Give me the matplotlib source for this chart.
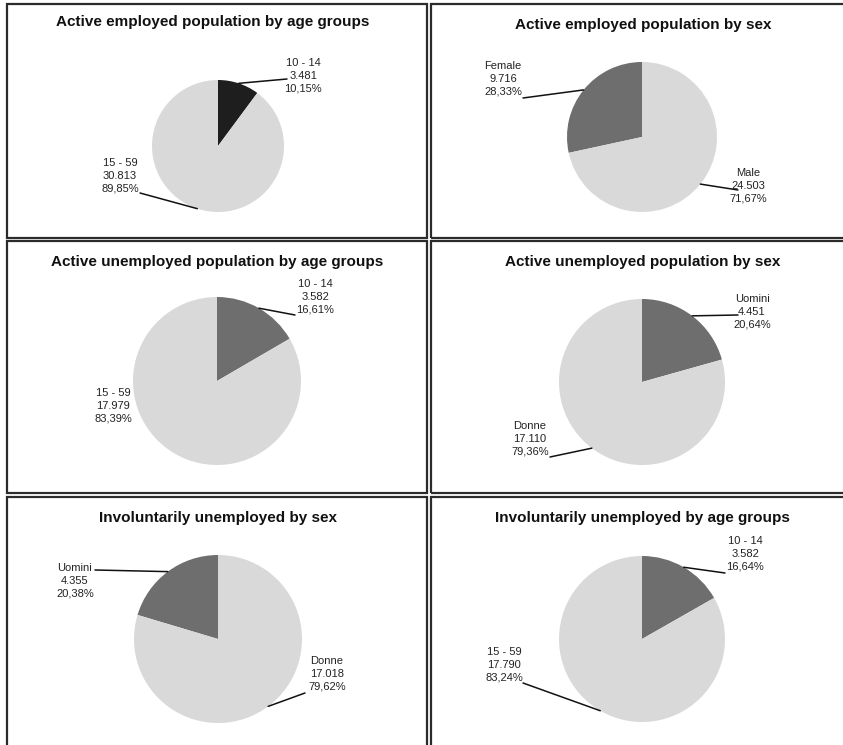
import matplotlib
matplotlib.use("Agg")
import matplotlib.pyplot as plt
from matplotlib.patches import Rectangle
import numpy as np

W, H = 843, 745

# ---------------- data ----------------
titles = [
    "Active employed population by age groups",
    "Active employed population by sex",
    "Active unemployed population by age groups",
    "Active unemployed population by sex",
    "Involuntarily unemployed by sex",
    "Involuntarily unemployed by age groups",
]
cats_p1 = ["10 - 14", "15 - 59"]
vals_p1 = [3481, 30813]
pct_p1 = ["10,15%", "89,85%"]

cats_p2 = ["Female", "Male"]
vals_p2 = [9716, 24503]
pct_p2 = ["28,33%", "71,67%"]

cats_p3 = ["10 - 14", "15 - 59"]
vals_p3 = [3582, 17979]
pct_p3 = ["16,61%", "83,39%"]

cats_p4 = ["Uomini", "Donne"]
vals_p4 = [4451, 17110]
pct_p4 = ["20,64%", "79,36%"]

cats_p5 = ["Uomini", "Donne"]
vals_p5 = [4355, 17018]
pct_p5 = ["20,38%", "79,62%"]

cats_p6 = ["10 - 14", "15 - 59"]
vals_p6 = [3582, 17790]
pct_p6 = ["16,64%", "83,24%"]

# ---------------- layout / style ----------------
DARK = "#6e6e6e"
BLACK = "#1e1e1e"
LIGHT = "#d9d9d9"
LABEL_FONT = ["Liberation Sans", "DejaVu Sans"]

panels = [
    dict(cats=cats_p1, vals=vals_p1, pct=pct_p1, colors=[BLACK, LIGHT], ccw=False,
         center=(218, 146), r=66, title_xy=(213, 22),
         label_xy=[(303, 76), (120, 176)], leader_end=[(287, 79), (140, 193)]),
    dict(cats=cats_p2, vals=vals_p2, pct=pct_p2, colors=[DARK, LIGHT], ccw=True,
         center=(642, 137), r=75, title_xy=(643, 25),
         label_xy=[(503, 79), (748, 186)], leader_end=[(523, 98), (738, 190)]),
    dict(cats=cats_p3, vals=vals_p3, pct=pct_p3, colors=[DARK, LIGHT], ccw=False,
         center=(217, 381), r=84, title_xy=(217, 262),
         label_xy=[(315, 297), (113, 406)], leader_end=[(295, 315), None]),
    dict(cats=cats_p4, vals=vals_p4, pct=pct_p4, colors=[DARK, LIGHT], ccw=False,
         center=(642, 382), r=83, title_xy=(643, 262),
         label_xy=[(752, 312), (530, 439)], leader_end=[(738, 315), (550, 457)]),
    dict(cats=cats_p5, vals=vals_p5, pct=pct_p5, colors=[DARK, LIGHT], ccw=True,
         center=(218, 639), r=84, title_xy=(218, 518),
         label_xy=[(75, 581), (327, 674)], leader_end=[(95, 570), (305, 693)]),
    dict(cats=cats_p6, vals=vals_p6, pct=pct_p6, colors=[DARK, LIGHT], ccw=False,
         center=(642, 639), r=83, title_xy=(642, 518),
         label_xy=[(745, 554), (504, 665)], leader_end=[(725, 573), (523, 683)]),
]

# panel frames (pixel boxes: x0, y0, x1, y1 from top-left)
frames = [(7, 4, 427, 238), (431, 4, 860, 238),
          (7, 241, 427, 493), (431, 241, 860, 493),
          (7, 497, 427, 760), (431, 497, 860, 760)]


def fx(x):
    return x / W


def fy(y):
    return 1 - y / H


fig = plt.figure(figsize=(W / 100, H / 100), dpi=100)
fig.patch.set_facecolor("white")

for (x0, y0, x1, y1) in frames:
    fig.patches.append(Rectangle((fx(x0), fy(y1)), fx(x1) - fx(x0), fy(y0) - fy(y1),
                                 transform=fig.transFigure, fill=False,
                                 edgecolor="#2b2b2b", linewidth=1.6, zorder=0))


def fmt_val(v):
    return f"{v:,}".replace(",", ".")


for p, title in zip(panels, titles):
    cx, cy = p["center"]
    r = p["r"]
    ax = fig.add_axes([fx(cx - r), fy(cy + r), 2 * r / W, 2 * r / H])
    wedges, _ = ax.pie(p["vals"], colors=p["colors"], startangle=90,
                       counterclock=p["ccw"], radius=1,
                       wedgeprops=dict(linewidth=0))
    ax.set_xlim(-1, 1)
    ax.set_ylim(-1, 1)
    ax.axis("off")

    fig.text(fx(p["title_xy"][0]), fy(p["title_xy"][1]), title,
             ha="center", va="center", fontsize=11, fontweight="bold",
             family=["Liberation Sans", "DejaVu Sans"], color="#111111")

    for w, cat, v, pc, lxy, lend in zip(wedges, p["cats"], p["vals"], p["pct"],
                                        p["label_xy"], p["leader_end"]):
        fig.text(fx(lxy[0]), fy(lxy[1]), f"{cat}\n{fmt_val(v)}\n{pc}",
                 ha="center", va="center", multialignment="center",
                 fontsize=8, linespacing=1.35, family=LABEL_FONT, color="#222222")
        if lend is not None:
            mid = np.deg2rad((w.theta1 + w.theta2) / 2)
            ax.annotate("", xy=(np.cos(mid), np.sin(mid)), xycoords="data",
                        xytext=(lend[0], H - lend[1]), textcoords="figure pixels",
                        arrowprops=dict(arrowstyle="-", shrinkA=0, shrinkB=0,
                                        lw=1.1, color="#111111"),
                        annotation_clip=False)

fig.savefig("out.png", dpi=100, facecolor="white")
